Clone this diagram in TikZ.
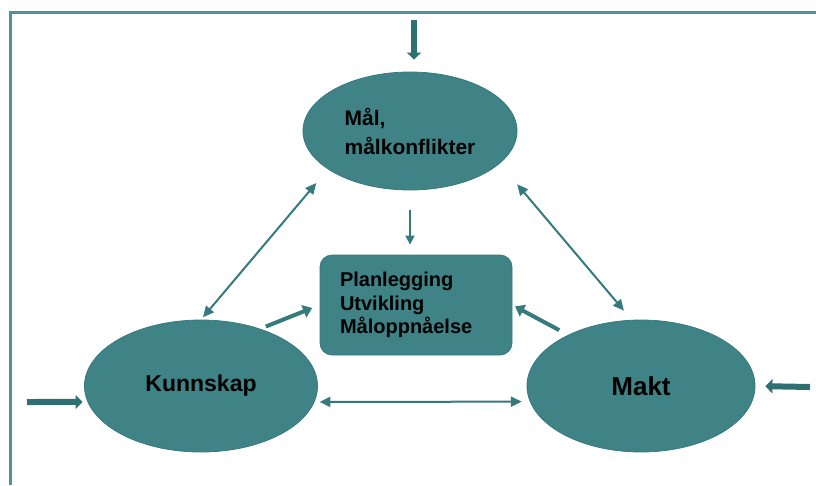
\documentclass[tikz,border=0pt]{standalone}
\usepackage{fontspec}
\setmainfont{Liberation Sans}
\usepackage{xcolor}
\usetikzlibrary{shapes.geometric,arrows.meta}
\definecolor{tealfill}{HTML}{3F8386}
\definecolor{tealline}{HTML}{357A7D}
\definecolor{tealdark}{HTML}{2E6F72}
\definecolor{framecol}{HTML}{4E9397}

\begin{document}
\begin{tikzpicture}[x=1pt, y=-1pt,
  oval/.style={ellipse, draw=tealline, line width=0.8pt, fill=tealfill,
               inner sep=0pt, align=left, font=\bfseries},
  planbox/.style={draw=tealline, line width=0.8pt, fill=tealfill,
                  rounded corners=12pt, minimum width=192pt, minimum height=100pt,
                  text width=152pt, inner xsep=20pt, align=left,
                  font=\fontsize{20}{23.5}\selectfont\bfseries},
  dbl/.style={{Triangle[length=11pt,width=10pt]}-{Triangle[length=11pt,width=10pt]},
              line width=2pt, color=tealline},
  sgl/.style={-{Triangle[length=9pt,width=9pt]}, line width=2pt, color=tealline},
  thk/.style={-{Triangle[length=9pt,width=13pt]}, line width=4pt, color=tealline},
  inarr/.style={-{Triangle[length=7pt,width=14pt]}, line width=6pt, color=tealdark},
  frame/.style={line width=3pt, color=framecol}
]
  \useasboundingbox (0,0) rectangle (816,485);

  % Frame (top and left only)
  \draw[frame] (816,12) -- (10,12) -- (10,485);

  % Main nodes
  \node[oval, minimum width=214pt, minimum height=118pt,
        font=\fontsize{21}{29}\selectfont\bfseries] (maal) at (410,131) {Mål,\\målkonflikter};
  \node[oval, minimum width=233pt, minimum height=132pt,
        font=\fontsize{23}{27}\selectfont\bfseries] (kunn) at (201,386) {Kunnskap};
  \node[oval, minimum width=228pt, minimum height=132pt,
        font=\fontsize{26}{30}\selectfont\bfseries] (makt) at (641,386) {Makt};
  \node[planbox] (plan) at (416,305) {Planlegging\\Utvikling\\Måloppnåelse};

  % Inputs from outside
  \coordinate (inT) at (414,20);
  \coordinate (inL) at (27,402);
  \coordinate (inR) at (810,387);
  \draw[inarr, shorten >=12pt] (inT) -- (inT |- maal.north);
  \draw[inarr, shorten >=5pt] (inL) -- (kunn.188);
  \draw[inarr, shorten >=10pt] (inR) -- (makt.east);

  % Links between the three
  \draw[dbl, shorten <=18pt, shorten >=3pt] (maal.205) -- (kunn.north);
  \draw[dbl, shorten <=27pt, shorten >=12pt] (maal.-20) -- (makt.98);
  \draw[dbl, shorten <=5pt, shorten >=8pt] (kunn.-8) -- (makt.188);

  % Into the planning box
  \draw[sgl, shorten <=20pt, shorten >=10pt] (maal.south) -- (maal.south |- plan.north);
  \draw[thk, shorten <=6pt, shorten >=8pt] (kunn.44) -- (plan.west);
  \draw[thk, shorten <=10pt, shorten >=3pt] (makt.145) -- (plan.east);
\end{tikzpicture}
\end{document}
